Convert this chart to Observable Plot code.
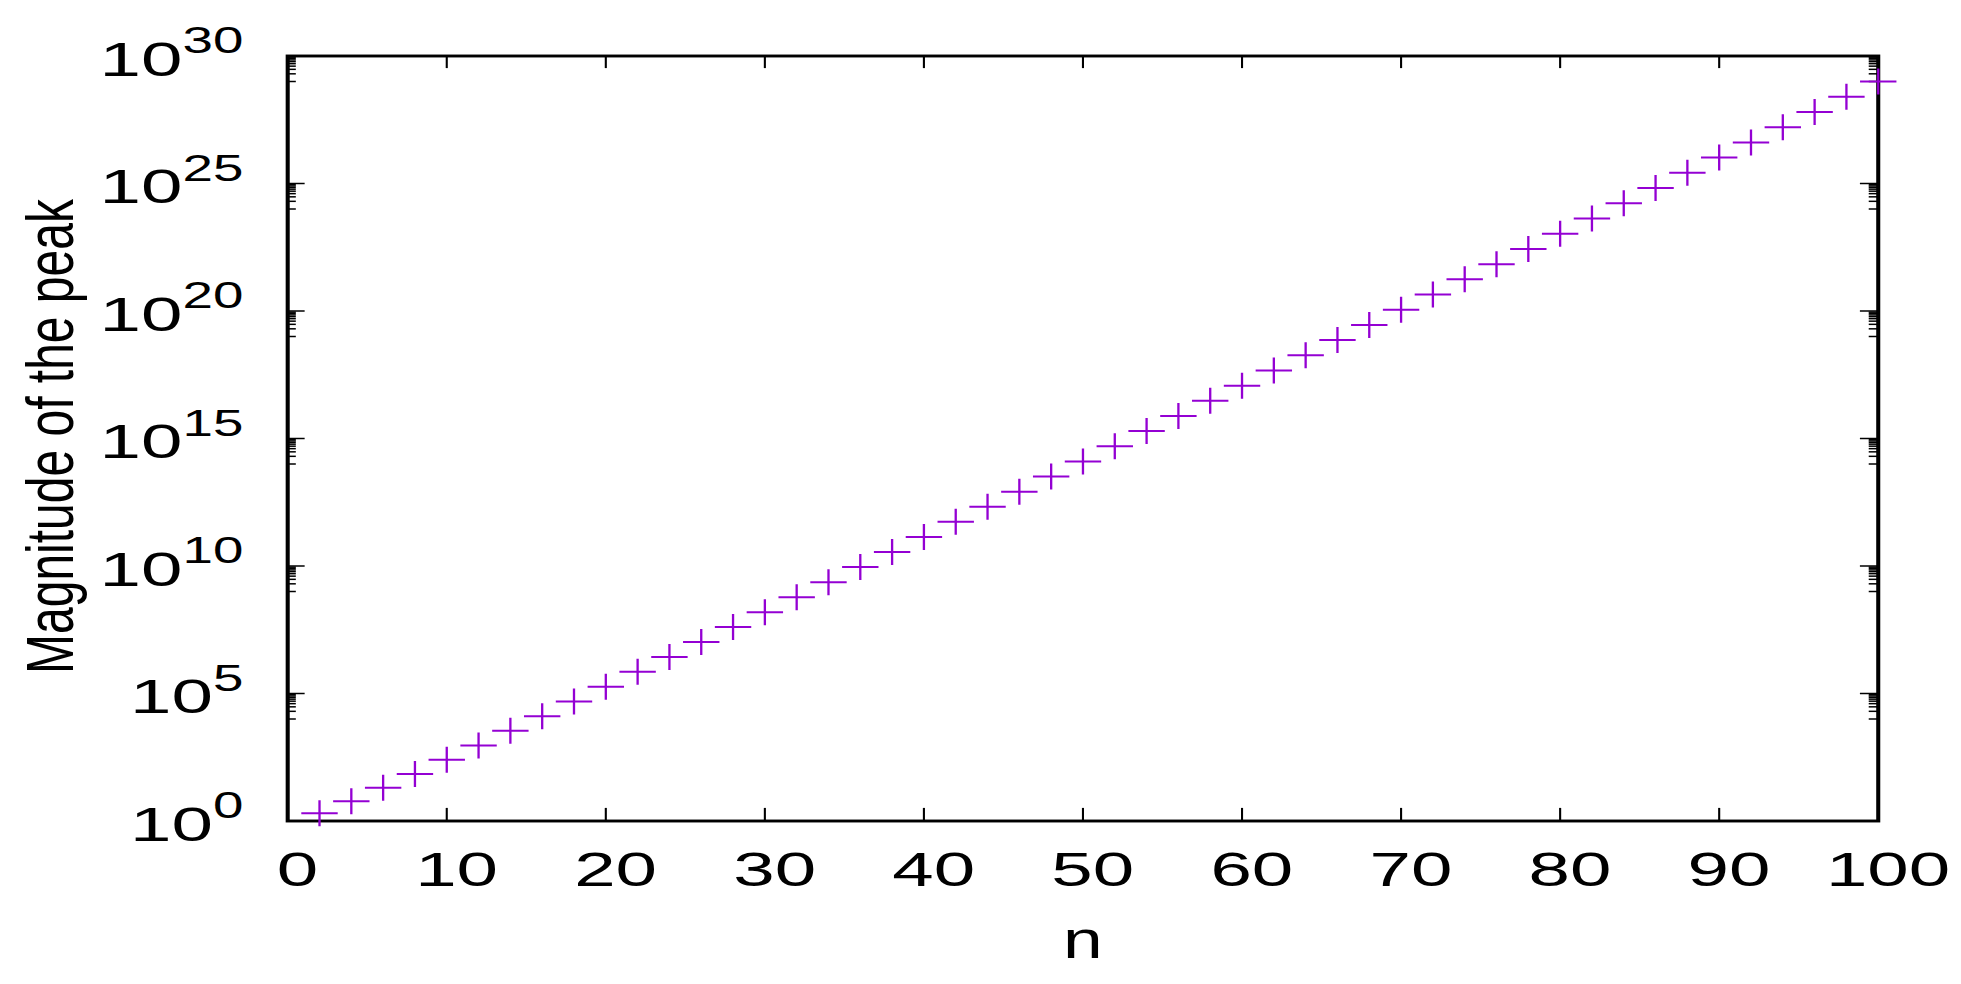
<!DOCTYPE html>
<html>
<head>
<meta charset="utf-8">
<script src="https://cdn.jsdelivr.net/npm/d3@7"></script>
<script src="https://cdn.jsdelivr.net/npm/@observablehq/plot@0.6"></script>
<style>
  html, body { margin: 0; padding: 0; background: white; overflow: hidden; }
  #chart { width: 1961px; height: 984px; }
</style>
</head>
<body>
<div id="chart"></div>
<script>
// ---- data ----
const nValues = [2, 4, 6, 8, 10, 12, 14, 16, 18, 20,
                 22, 24, 26, 28, 30, 32, 34, 36, 38, 40,
                 42, 44, 46, 48, 50, 52, 54, 56, 58, 60,
                 62, 64, 66, 68, 70, 72, 74, 76, 78, 80,
                 82, 84, 86, 88, 90, 92, 94, 96, 98, 100];
const peakMagnitudes = [2, 6, 20, 70, 252, 924, 3.43e3, 1.29e4, 4.86e4, 1.85e5,
                        7.05e5, 2.70e6, 1.04e7, 4.01e7, 1.55e8, 6.01e8, 2.33e9, 9.08e9, 3.53e10, 1.38e11,
                        5.38e11, 2.10e12, 8.23e12, 3.22e13, 1.26e14, 4.96e14, 1.95e15, 7.65e15, 3.01e16, 1.18e17,
                        4.65e17, 1.83e18, 7.22e18, 2.85e19, 1.12e20, 4.43e20, 1.75e21, 6.89e21, 2.72e22, 1.08e23,
                        4.24e23, 1.68e24, 6.62e24, 2.62e25, 1.04e26, 4.09e26, 1.62e27, 6.40e27, 2.53e28, 1.01e29];
const xTicks = [0, 10, 20, 30, 40, 50, 60, 70, 80, 90, 100];
const yTicks = [1, 1e5, 1e10, 1e15, 1e20, 1e25, 1e30];
const yMinorMultipliers = [0.1, 0.2, 0.3, 0.4, 0.5, 0.6, 0.7, 0.8, 0.9];
const xLabel = "n";
const yLabel = "Magnitude of the peak";

const data = nValues.map((n, i) => ({n, peak: peakMagnitudes[i]}));
const yMinorTicks = yTicks.slice(1).flatMap(t => yMinorMultipliers.map(m => t * m));

// ---- layout (drawn narrower, then stretched horizontally like the reference) ----
const STRETCH = 1.40;
const W = 1961, H = 984;
const W0 = W / STRETCH;
const mL = 205, mR = W0 - 1341.1, mT = 55.5, mB = 163.5;
const plotW = W0 - mL - mR, plotH = H - mT - mB;
const MAJOR = 12.6, MINOR = 6.3;

// "+" marker built from two bars
const plusSymbol = {
  draw(ctx, size) {
    const h = Math.sqrt(size / Math.PI);
    const th = 2.0, tv = 1.65;
    ctx.moveTo(-h, -th / 2); ctx.lineTo(h, -th / 2); ctx.lineTo(h, th / 2); ctx.lineTo(-h, th / 2); ctx.closePath();
    ctx.moveTo(-tv / 2, -h); ctx.lineTo(tv / 2, -h); ctx.lineTo(tv / 2, h); ctx.lineTo(-tv / 2, h); ctx.closePath();
  }
};

const tickStyle = {stroke: "black", strokeWidth: 1.5};

const svg = Plot.plot({
  width: W0,
  height: H,
  marginLeft: mL, marginRight: mR, marginTop: mT, marginBottom: mB,
  style: {fontFamily: "'Liberation Sans', Arial, sans-serif", background: "white", color: "black"},
  x: {domain: [0, 100], label: null},
  y: {type: "log", domain: [1, 1e30], label: null},
  marks: [
    Plot.axisX({ticks: xTicks, tickSize: 0, tickPadding: 29.7, fontSize: 49, dx: 7, tickFormat: d => String(d), label: null}),
    Plot.axisY({ticks: yTicks, tickSize: 0, tickPadding: 31.7, fontSize: 49, dy: 4.3,
                tickFormat: d => "10^" + Math.round(Math.log10(d)), label: null}),
    // inward major ticks, bottom & top
    Plot.tickX(xTicks, {x: d => d, insetTop: plotH - MAJOR, ...tickStyle}),
    Plot.tickX(xTicks, {x: d => d, insetBottom: plotH - MAJOR, ...tickStyle}),
    // inward major ticks, left & right
    Plot.tickY(yTicks, {y: d => d, insetRight: plotW - MAJOR, ...tickStyle}),
    Plot.tickY(yTicks, {y: d => d, insetLeft: plotW - MAJOR, ...tickStyle}),
    // minor ticks
    Plot.tickY(yMinorTicks, {y: d => d, insetRight: plotW - MINOR, ...tickStyle}),
    Plot.tickY(yMinorTicks, {y: d => d, insetLeft: plotW - MINOR, ...tickStyle}),
    Plot.frame({stroke: "black", strokeWidth: 2.9}),
    Plot.dot(data, {x: "n", y: "peak", symbol: plusSymbol, r: 13, fill: "#9400D3", stroke: "none"}),
    Plot.text([yLabel], {text: d => d, frameAnchor: "left", dx: -169, dy: -2, rotate: -90,
                         fontSize: 48, lineAnchor: "middle", textAnchor: "middle", fill: "black"}),
    Plot.text([xLabel], {text: d => d, frameAnchor: "bottom", dy: 120.2,
                         fontSize: 51, lineAnchor: "middle", textAnchor: "middle", fill: "black"})
  ]
});

// superscript exponents on the y tick labels
for (const t of svg.querySelectorAll('g[aria-label="y-axis tick label"] text')) {
  const s = t.textContent;
  const parts = s.split("^");
  if (parts.length === 2) {
    t.textContent = parts[0];
    const ts = document.createElementNS("http://www.w3.org/2000/svg", "tspan");
    ts.setAttribute("dy", "-22.5");
    ts.setAttribute("font-size", "36");
    ts.textContent = parts[1];
    t.appendChild(ts);
  }
}
// the reference's digits are a little wider than Liberation Sans
for (const t of svg.querySelectorAll('g[aria-label="y-axis tick label"] text, g[aria-label="x-axis tick label"] text')) {
  let tr = t.getAttribute("transform");
  if (tr == null) {
    const x = t.getAttribute("x") || 0, y = t.getAttribute("y") || 0;
    t.removeAttribute("x"); t.removeAttribute("y");
    tr = `translate(${x},${y})`;
  }
  t.setAttribute("transform", tr + " scale(1.086,1)");
}

svg.setAttribute("viewBox", `0 0 ${W0} ${H}`);
svg.setAttribute("width", W);
svg.setAttribute("height", H);
svg.setAttribute("preserveAspectRatio", "none");
svg.style.width = W + "px";
svg.style.height = H + "px";
svg.style.maxWidth = "none";
svg.style.display = "block";
document.getElementById("chart").appendChild(svg);
</script>
</body>
</html>
